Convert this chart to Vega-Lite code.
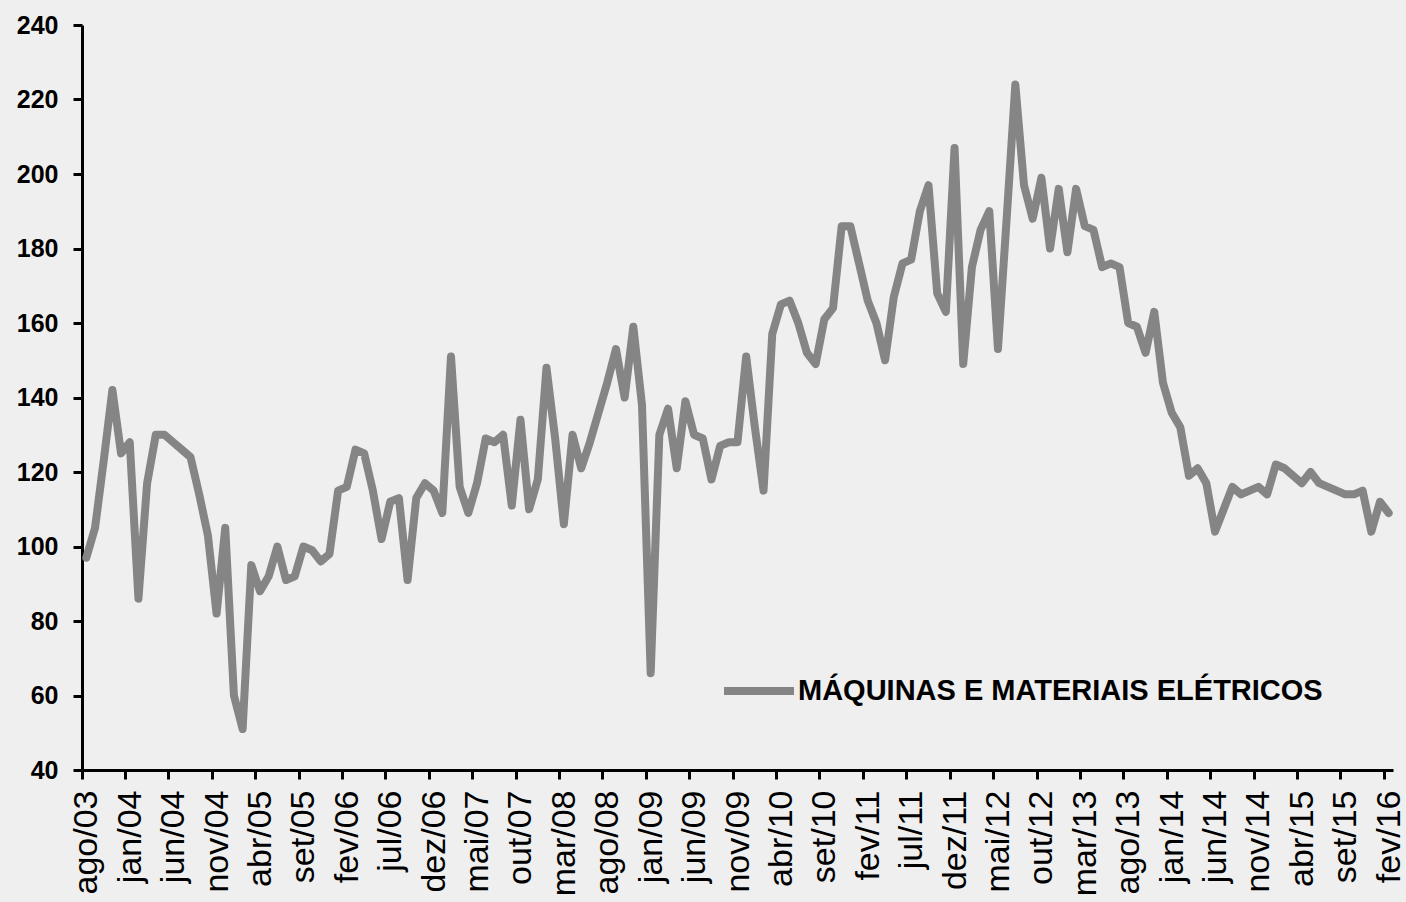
{
  "$schema": "https://vega.github.io/schema/vega-lite/v6.json",
  "width": 1311,
  "height": 745,
  "autosize": {"type": "none"},
  "padding": {"left": 82, "top": 25, "right": 13, "bottom": 132},
  "background": "#efefef",
  "config": {"view": {"stroke": null}, "font": "Liberation Sans"},
  "data": {"values": [
    {"m":"ago/03","v":97},{"m":"set/03","v":105},{"m":"out/03","v":123},{"m":"nov/03","v":142},{"m":"dez/03","v":125},
    {"m":"jan/04","v":128},{"m":"fev/04","v":86},{"m":"mar/04","v":117},{"m":"abr/04","v":130},{"m":"mai/04","v":130},{"m":"jun/04","v":128},{"m":"jul/04","v":126},{"m":"ago/04","v":124},{"m":"set/04","v":114},{"m":"out/04","v":103},{"m":"nov/04","v":82},{"m":"dez/04","v":105},
    {"m":"jan/05","v":60},{"m":"fev/05","v":51},{"m":"mar/05","v":95},{"m":"abr/05","v":88},{"m":"mai/05","v":92},{"m":"jun/05","v":100},{"m":"jul/05","v":91},{"m":"ago/05","v":92},{"m":"set/05","v":100},{"m":"out/05","v":99},{"m":"nov/05","v":96},{"m":"dez/05","v":98},
    {"m":"jan/06","v":115},{"m":"fev/06","v":116},{"m":"mar/06","v":126},{"m":"abr/06","v":125},{"m":"mai/06","v":115},{"m":"jun/06","v":102},{"m":"jul/06","v":112},{"m":"ago/06","v":113},{"m":"set/06","v":91},{"m":"out/06","v":113},{"m":"nov/06","v":117},{"m":"dez/06","v":115},
    {"m":"jan/07","v":109},{"m":"fev/07","v":151},{"m":"mar/07","v":116},{"m":"abr/07","v":109},{"m":"mai/07","v":117},{"m":"jun/07","v":129},{"m":"jul/07","v":128},{"m":"ago/07","v":130},{"m":"set/07","v":111},{"m":"out/07","v":134},{"m":"nov/07","v":110},{"m":"dez/07","v":118},
    {"m":"jan/08","v":148},{"m":"fev/08","v":129},{"m":"mar/08","v":106},{"m":"abr/08","v":130},{"m":"mai/08","v":121},{"m":"jun/08","v":128},{"m":"jul/08","v":136},{"m":"ago/08","v":144},{"m":"set/08","v":153},{"m":"out/08","v":140},{"m":"nov/08","v":159},{"m":"dez/08","v":138},
    {"m":"jan/09","v":66},{"m":"fev/09","v":130},{"m":"mar/09","v":137},{"m":"abr/09","v":121},{"m":"mai/09","v":139},{"m":"jun/09","v":130},{"m":"jul/09","v":129},{"m":"ago/09","v":118},{"m":"set/09","v":127},{"m":"out/09","v":128},{"m":"nov/09","v":128},{"m":"dez/09","v":151},
    {"m":"jan/10","v":132},{"m":"fev/10","v":115},{"m":"mar/10","v":157},{"m":"abr/10","v":165},{"m":"mai/10","v":166},{"m":"jun/10","v":160},{"m":"jul/10","v":152},{"m":"ago/10","v":149},{"m":"set/10","v":161},{"m":"out/10","v":164},{"m":"nov/10","v":186},{"m":"dez/10","v":186},
    {"m":"jan/11","v":176},{"m":"fev/11","v":166},{"m":"mar/11","v":160},{"m":"abr/11","v":150},{"m":"mai/11","v":167},{"m":"jun/11","v":176},{"m":"jul/11","v":177},{"m":"ago/11","v":190},{"m":"set/11","v":197},{"m":"out/11","v":168},{"m":"nov/11","v":163},{"m":"dez/11","v":207},
    {"m":"jan/12","v":149},{"m":"fev/12","v":175},{"m":"mar/12","v":185},{"m":"abr/12","v":190},{"m":"mai/12","v":153},{"m":"jun/12","v":188},{"m":"jul/12","v":224},{"m":"ago/12","v":197},{"m":"set/12","v":188},{"m":"out/12","v":199},{"m":"nov/12","v":180},{"m":"dez/12","v":196},
    {"m":"jan/13","v":179},{"m":"fev/13","v":196},{"m":"mar/13","v":186},{"m":"abr/13","v":185},{"m":"mai/13","v":175},{"m":"jun/13","v":176},{"m":"jul/13","v":175},{"m":"ago/13","v":160},{"m":"set/13","v":159},{"m":"out/13","v":152},{"m":"nov/13","v":163},{"m":"dez/13","v":144},
    {"m":"jan/14","v":136},{"m":"fev/14","v":132},{"m":"mar/14","v":119},{"m":"abr/14","v":121},{"m":"mai/14","v":117},{"m":"jun/14","v":104},{"m":"jul/14","v":110},{"m":"ago/14","v":116},{"m":"set/14","v":114},{"m":"out/14","v":115},{"m":"nov/14","v":116},{"m":"dez/14","v":114},
    {"m":"jan/15","v":122},{"m":"fev/15","v":121},{"m":"mar/15","v":119},{"m":"abr/15","v":117},{"m":"mai/15","v":120},{"m":"jun/15","v":117},{"m":"jul/15","v":116},{"m":"ago/15","v":115},{"m":"set/15","v":114},{"m":"out/15","v":114},{"m":"nov/15","v":115},{"m":"dez/15","v":104},
    {"m":"jan/16","v":112},{"m":"fev/16","v":109}
  ]},
  "mark": {"type": "line", "strokeWidth": 8, "strokeJoin": "round", "strokeCap": "round"},
  "encoding": {
    "x": {
      "field": "m", "type": "ordinal", "sort": null, "bandPosition": 0.5,
      "scale": {"type": "band", "paddingInner": 0, "paddingOuter": 0},
      "axis": {
        "values": ["ago/03","jan/04","jun/04","nov/04","abr/05","set/05","fev/06","jul/06","dez/06","mai/07","out/07","mar/08","ago/08","jan/09","jun/09","nov/09","abr/10","set/10","fev/11","jul/11","dez/11","mai/12","out/12","mar/13","ago/13","jan/14","jun/14","nov/14","abr/15","set/15","fev/16"],
        "title": null, "labelAngle": 270, "labelAlign": "right", "labelBaseline": "middle",
        "labelFontSize": 34, "labelColor": "#000000", "labelPadding": 11,
        "bandPosition": 0, "labelOffset": 1,
        "tickSize": 9, "tickWidth": 3, "tickColor": "#000000",
        "domainColor": "#000000", "domainWidth": 3, "grid": false, "labelOverlap": false
      }
    },
    "y": {
      "field": "v", "type": "quantitative",
      "scale": {"domain": [40, 240], "nice": false, "zero": false},
      "axis": {
        "values": [40, 60, 80, 100, 120, 140, 160, 180, 200, 220, 240],
        "title": null, "labelFontSize": 25, "labelFontWeight": "bold", "labelColor": "#000000",
        "labelPadding": 15, "tickSize": 9, "tickWidth": 3, "tickColor": "#000000",
        "domainColor": "#000000", "domainWidth": 3, "grid": false
      }
    },
    "color": {
      "datum": "MÁQUINAS E MATERIAIS ELÉTRICOS", "type": "nominal",
      "scale": {"range": ["#858585"]},
      "legend": {
        "title": null, "orient": "none", "legendX": 638, "legendY": 627, "padding": 0,
        "symbolType": "stroke", "symbolSize": 4900, "symbolStrokeWidth": 8,
        "labelFontSize": 29, "labelFontWeight": "bold", "labelColor": "#000000",
        "labelOffset": 0, "labelLimit": 800
      }
    }
  }
}
